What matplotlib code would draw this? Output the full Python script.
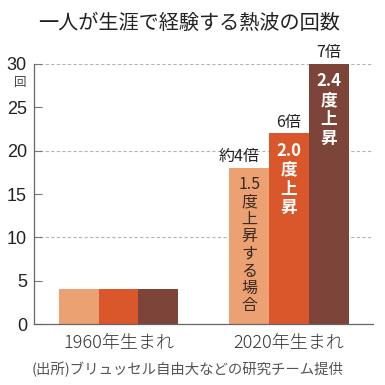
"""
熱波の回数 (1960年生まれ vs 2020年生まれ) bar chart
"""

import matplotlib
matplotlib.use("Agg")
import matplotlib.pyplot as plt
import numpy as np


# =========================================================
# Data
# =========================================================

GROUPS = ["1960年生まれ", "2020年生まれ"]

SCENARIOS = ["1.5度上昇", "2.0度上昇", "2.4度上昇"]

VALUES_1960 = [4, 4, 4]
VALUES_2020 = [18, 22, 30]

RATIO_LABELS = ["約4倍", "6倍", "7倍"]
BAR_LABELS = ["1.5\n度\n上\n昇\nす\nる\n場\n合", "2.0\n度\n上\n昇", "2.4\n度\n上\n昇"]

Y_TICKS = [0, 5, 10, 15, 20, 25, 30]
GRID_LEVELS = [10, 20, 30]


# =========================================================
# Style
# =========================================================

COLORS = ["#EBA171", "#D9572B", "#7D4439"]
LABEL_COLORS = ["#3a2a20", "white", "white"]
LABEL_WEIGHTS = ["normal", "bold", "bold"]
LABEL_SIZES = [11.5, 12, 12]
LABEL_SPACING = [1.02, 1.08, 1.08]

JP = ["Noto Sans CJK JP", "DejaVu Sans"]
NUM = ["Liberation Sans Narrow", "Liberation Sans", "Noto Sans CJK JP"]

plt.rcParams["font.family"] = JP


def main():

    fig = plt.figure(figsize=(3.85, 3.85), dpi=100)
    ax = fig.add_axes([0.088, 0.158, 0.881, 0.676])

    width = 0.233
    centers = np.arange(len(GROUPS))
    offsets = (np.arange(len(SCENARIOS)) - 1) * width

    # grid
    for lv in GRID_LEVELS:
        ax.axhline(lv, color="#b5b5b5", linestyle=(0, (3, 2)),
                   linewidth=0.8, zorder=0)

    bars_2020 = []
    for i in range(len(SCENARIOS)):
        ax.bar(centers[0] + offsets[i], VALUES_1960[i], width,
               color=COLORS[i], zorder=2)
        b = ax.bar(centers[1] + offsets[i], VALUES_2020[i], width,
                   color=COLORS[i], zorder=2)
        bars_2020.append(b[0])

    # labels on 2020 bars
    for i, b in enumerate(bars_2020):
        x = b.get_x() + b.get_width() / 2
        top = b.get_height()
        dx = -7 if i == 0 else 0
        ax.annotate(RATIO_LABELS[i], (x, top), xytext=(dx, 2),
                    textcoords="offset points", ha="center", va="bottom",
                    fontsize=11.5, color="#222222")
        ax.annotate(BAR_LABELS[i], (x, top), xytext=(0, -6),
                    textcoords="offset points", ha="center", va="top",
                    fontsize=LABEL_SIZES[i], color=LABEL_COLORS[i],
                    fontweight=LABEL_WEIGHTS[i],
                    linespacing=LABEL_SPACING[i],
                    multialignment="center", zorder=3)

    ax.set_xlim(-0.496, 1.493)
    ax.set_ylim(0, 30)

    ax.set_xticks(centers)
    ax.set_xticklabels(GROUPS, fontsize=13, color="#333333",
                       fontweight="light")
    ax.tick_params(axis="x", length=0, pad=7)

    ax.set_yticks(Y_TICKS)
    ax.set_yticklabels([str(t) for t in Y_TICKS], family=NUM,
                       fontsize=13, color="#222222")
    ax.tick_params(axis="y", direction="in", length=6, width=0.8,
                   color="#777777", pad=5)

    for side in ["top", "right"]:
        ax.spines[side].set_visible(False)
    for side in ["left", "bottom"]:
        ax.spines[side].set_color("#666666")
        ax.spines[side].set_linewidth(0.9)

    # unit
    fig.text(0.052, 0.787, "回", fontsize=9, color="#444444",
             ha="center", va="center")

    fig.text(0.49, 0.94, "一人が生涯で経験する熱波の回数",
             fontsize=14.5, color="#222222", ha="center", va="center")

    fig.text(0.487, 0.04, "(出所)ブリュッセル自由大などの研究チーム提供",
             fontsize=10.4, color="#555555", ha="center", va="center")

    fig.savefig("out.png", dpi=100)
    plt.close(fig)


if __name__ == "__main__":

    main()
